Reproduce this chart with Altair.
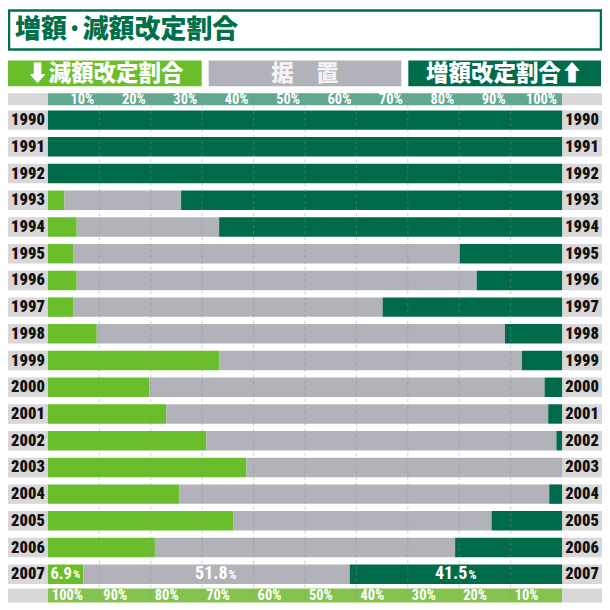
import altair as alt
import pandas as pd

# ---- data ----
years = list(range(1990, 2008))
decrease = [0, 0, 0, 3.2, 5.6, 5.0, 5.6, 5.0, 9.5, 33.3, 19.7, 23.0, 30.8, 38.6, 25.6, 36.1, 20.8, 6.9]
unchanged = [0, 0, 0, 22.7, 27.7, 75.1, 77.8, 60.1, 79.4, 58.9, 76.9, 74.3, 68.1, 61.4, 71.9, 50.2, 58.4, 51.8]
increase = [100, 100, 100, 74.1, 66.7, 19.9, 16.6, 34.9, 11.1, 7.8, 3.4, 2.7, 1.1, 0, 2.5, 13.7, 20.8, 41.5]
categories = ["減額", "据置", "増額"]
top_ticks = [10, 20, 30, 40, 50, 60, 70, 80, 90, 100]
bottom_ticks = [0, 10, 20, 30, 40, 50, 60, 70, 80, 90]
grid_ticks = [10, 20, 30, 40, 50, 60, 70, 80, 90]

title = "増額·減額改定割合"
legend_dec = "⬇減額改定割合"
legend_same = "据　置"
legend_inc = "増額改定割合⬆"

# ---- colours ----
C_DEC = "#6abd2b"
C_SAME = "#b2b2ba"
C_INC = "#006b4b"
C_CELL = "#d9d7d7"
C_HEAD = "#62a890"
C_FOOT = "#85c350"
C_TITLE = "#00704a"

JP = "'Noto Sans CJK JP', 'DejaVu Sans', sans-serif"
NARROW = "'Roboto Condensed', 'Liberation Sans Narrow', 'Arial Narrow', Roboto, sans-serif"

W, H = 595, 596
XMIN, XMAX = -40 / 5.15, (595 - 40) / 5.15
X = alt.Scale(domain=[XMIN, XMAX], nice=False, zero=False)
Y = alt.Scale(domain=[1990 - 111.8 / 26.76, 1990 - 111.8 / 26.76 + H / 26.76],
              reverse=True, nice=False, zero=False)
HALF = 0.364

# ---- tables ----
rows = []
for y, d, s, i in zip(years, decrease, unchanged, increase):
    segs = [(categories[0], 0, d), (categories[1], d, d + s), (categories[2], d + s, 100)]
    for c, a, b in segs:
        if b - a > 0:
            rows.append({"year": y, "cat": c, "x0": a, "x1": b,
                         "y0": y - HALF, "y1": y + HALF})
bars = pd.DataFrame(rows)

cells = pd.DataFrame(
    [{"year": y, "x0": XMIN, "x1": 0, "y0": y - HALF, "y1": y + HALF, "tx": XMIN / 2} for y in years]
    + [{"year": y, "x0": 100, "x1": XMAX, "y0": y - HALF, "y1": y + HALF, "tx": (100 + XMAX) / 2} for y in years]
)
top_df = pd.DataFrame({"x": top_ticks, "label": [f"{t}%" for t in top_ticks]})
bot_df = pd.DataFrame({"x": bottom_ticks, "label": [f"{100 - t}%" for t in bottom_ticks]})
grid_df = pd.DataFrame({"x": grid_ticks})
one = pd.DataFrame({"k": [0]})

last = years[-1]
d7, s7, i7 = decrease[-1], unchanged[-1], increase[-1]
ann_left = pd.DataFrame({"x": [0], "year": [last], "num": [f"{d7}"]})
ann_center = pd.DataFrame({"x": [d7 + s7 / 2, d7 + s7 + i7 / 2], "year": [last, last],
                           "num": [f"{s7}", f"{i7}"]})


def box(x0, x1, y0, y1, color, **kw):
    return alt.Chart(one).mark_rect(fill=color, **kw).encode(
        x=alt.value(x0), x2=alt.value(x1), y=alt.value(y0), y2=alt.value(y1))


def label(text, x, y, size, color, align="center", font=JP, weight=900):
    return alt.Chart(one).mark_text(text=text, align=align, baseline="middle", fontSize=size,
                                    font=font, fontWeight=weight, color=color).encode(
        x=alt.value(x), y=alt.value(y))


layers = []
# title box
layers.append(box(1, 594, 2, 41, "white", stroke=C_TITLE, strokeWidth=2.5))
layers.append(label(title, 7, 22, 26, C_TITLE, align="left"))
# legend boxes
layers.append(box(0, 194, 52, 78, C_DEC))
layers.append(box(201, 394, 52, 78, C_SAME))
layers.append(box(401, 594, 52, 78, C_INC))
layers.append(label(legend_dec, 97, 65.5, 22.5, "white"))
layers.append(label(legend_same, 297.5, 65.5, 22.5, "#f2f2f4"))
layers.append(label(legend_inc, 497.5, 65.5, 22.5, "white"))
# header / footer bars
layers.append(box(0, 40, 85, 97, C_CELL))
layers.append(box(40, 555, 85, 97, C_HEAD))
layers.append(box(555, 595, 85, 97, C_CELL))
layers.append(box(0, 40, 581, 595, C_CELL))
layers.append(box(40, 555, 581, 595, C_FOOT))
layers.append(box(555, 595, 581, 595, C_CELL))

layers.append(alt.Chart(top_df).mark_text(align="right", baseline="middle", dx=-5, fontSize=14.5,
                                           font=NARROW, fontWeight="bold", color="white").encode(
    x=alt.X("x:Q", scale=X, axis=None), y=alt.value(91.5), text="label:N"))
layers.append(alt.Chart(bot_df).mark_text(align="left", baseline="middle", dx=4, fontSize=14.5,
                                           font=NARROW, fontWeight="bold", color="white").encode(
    x=alt.X("x:Q", scale=X, axis=None), y=alt.value(588.5), text="label:N"))

# year label cells
layers.append(alt.Chart(cells).mark_rect(fill=C_CELL).encode(
    x=alt.X("x0:Q", scale=X, axis=None), x2="x1:Q",
    y=alt.Y("y0:Q", scale=Y, axis=None), y2="y1:Q"))
layers.append(alt.Chart(cells).mark_text(baseline="middle", fontSize=16.5, font=NARROW,
                                         fontWeight=900, color="#111111").encode(
    x=alt.X("tx:Q", scale=X, axis=None), y=alt.Y("year:Q", scale=Y, axis=None),
    text="year:N"))

# bars
layers.append(alt.Chart(bars).mark_rect().encode(
    x=alt.X("x0:Q", scale=X, axis=None), x2="x1:Q",
    y=alt.Y("y0:Q", scale=Y, axis=None), y2="y1:Q",
    color=alt.Color("cat:N", scale=alt.Scale(domain=categories, range=[C_DEC, C_SAME, C_INC]),
                    legend=None)))

# gridlines
layers.append(alt.Chart(grid_df).mark_rule(strokeDash=[3, 3], strokeWidth=1, color="#8c8c8c",
                                            opacity=0.45).encode(
    x=alt.X("x:Q", scale=X, axis=None), y=alt.value(85), y2=alt.value(595)))

# 2007 annotations
layers.append(alt.Chart(ann_left).mark_text(align="right", baseline="middle", dx=24, fontSize=16.5,
                                             font=NARROW, fontWeight="bold", color="white").encode(
    x=alt.X("x:Q", scale=X, axis=None), y=alt.Y("year:Q", scale=Y, axis=None), text="num:N"))
layers.append(alt.Chart(ann_left).mark_text(text="%", align="left", baseline="middle", dx=25, dy=1,
                                             fontSize=11.5, font=NARROW, fontWeight="bold",
                                             color="white").encode(
    x=alt.X("x:Q", scale=X, axis=None), y=alt.Y("year:Q", scale=Y, axis=None)))
layers.append(alt.Chart(ann_center).mark_text(align="right", baseline="middle", dx=11, fontSize=18,
                                               font=NARROW, fontWeight="bold", color="white").encode(
    x=alt.X("x:Q", scale=X, axis=None), y=alt.Y("year:Q", scale=Y, axis=None), text="num:N"))
layers.append(alt.Chart(ann_center).mark_text(text="%", align="left", baseline="middle", dx=12, dy=1,
                                               fontSize=12.5, font=NARROW, fontWeight="bold",
                                               color="white").encode(
    x=alt.X("x:Q", scale=X, axis=None), y=alt.Y("year:Q", scale=Y, axis=None)))

chart = alt.layer(*layers).properties(
    width=W, height=H, padding=0, background="white",
    autosize=alt.AutoSizeParams(type="none"),
).configure_view(stroke=None)

chart.save("out.html", embed_options={"renderer": "svg", "actions": False})
